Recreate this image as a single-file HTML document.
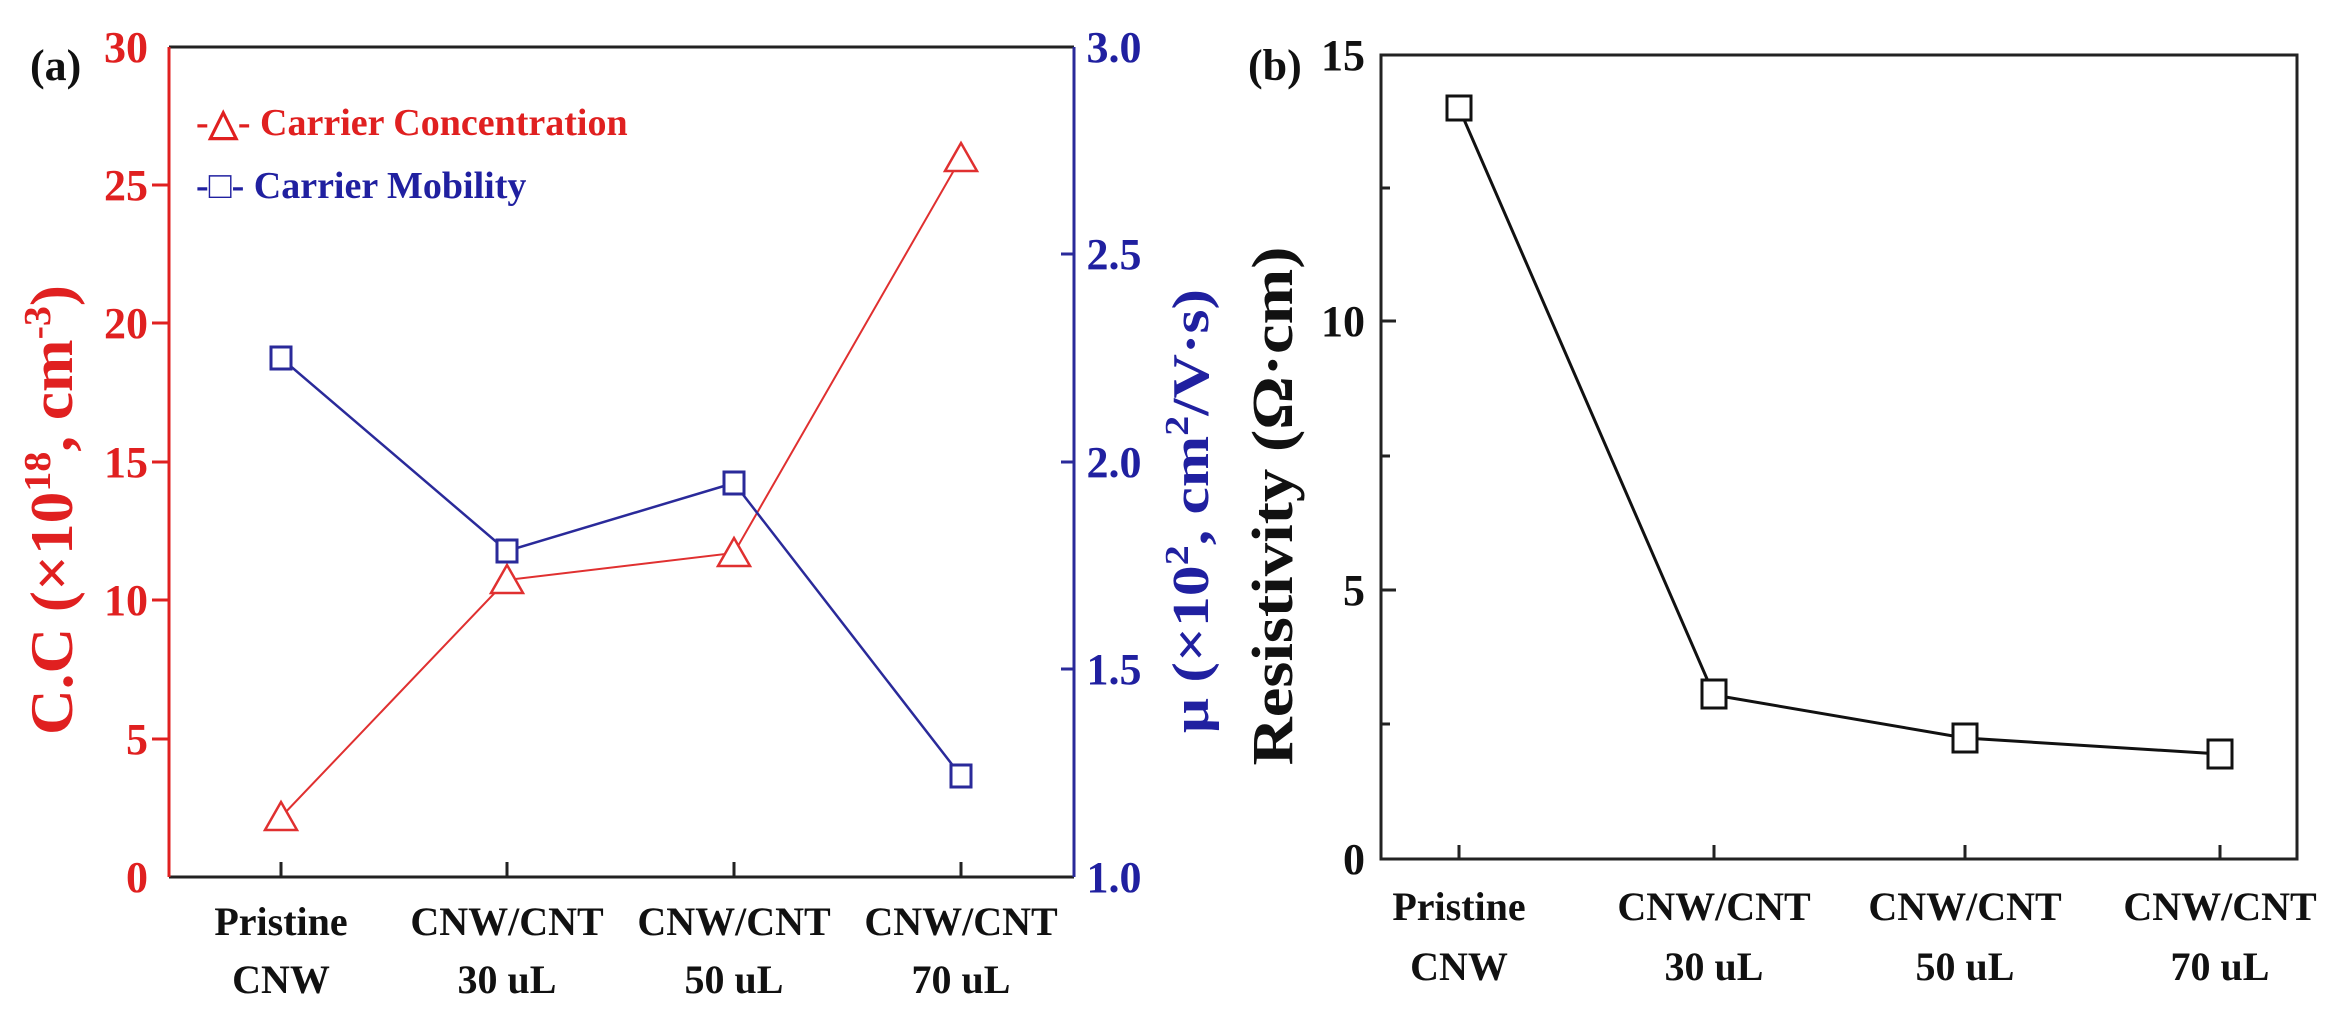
<!DOCTYPE html>
<html><head><meta charset="utf-8"><style>
html,body{margin:0;padding:0;background:#fff;}
svg{display:block;}
text{font-family:"Liberation Serif",serif;font-weight:bold;}
</style></head><body>
<svg width="2330" height="1017" viewBox="0 0 2330 1017" xmlns="http://www.w3.org/2000/svg">
<!-- Panel a -->
<text x="30" y="80" font-size="44" fill="#111">(a)</text>
<line x1="169" y1="47" x2="1074" y2="47" stroke="#222" stroke-width="3"/>
<line x1="169" y1="877" x2="1074" y2="877" stroke="#222" stroke-width="3"/>
<line x1="169" y1="47" x2="169" y2="877" stroke="#e02020" stroke-width="3"/>
<line x1="1074" y1="47" x2="1074" y2="877" stroke="#2a2a9a" stroke-width="3"/>
<g stroke="#e02020" stroke-width="3">
<line x1="152" y1="185" x2="169" y2="185"/><line x1="152" y1="323" x2="169" y2="323"/>
<line x1="152" y1="462" x2="169" y2="462"/><line x1="152" y1="600" x2="169" y2="600"/>
<line x1="152" y1="739" x2="169" y2="739"/>
</g>
<g fill="#e02020" font-size="44" text-anchor="end">
<text x="148" y="62">30</text><text x="148" y="200">25</text><text x="148" y="338">20</text>
<text x="148" y="477">15</text><text x="148" y="615">10</text><text x="148" y="754">5</text>
<text x="148" y="892">0</text>
</g>
<g stroke="#2a2a9a" stroke-width="3">
<line x1="1061" y1="254" x2="1074" y2="254"/><line x1="1061" y1="462" x2="1074" y2="462"/>
<line x1="1061" y1="669" x2="1074" y2="669"/>
</g>
<g fill="#2020a0" font-size="44" text-anchor="middle">
<text x="1114" y="62">3.0</text><text x="1114" y="269">2.5</text><text x="1114" y="477">2.0</text>
<text x="1114" y="684">1.5</text><text x="1114" y="892">1.0</text>
</g>
<g stroke="#222" stroke-width="3">
<line x1="281" y1="877" x2="281" y2="862"/><line x1="507" y1="877" x2="507" y2="862"/>
<line x1="734" y1="877" x2="734" y2="862"/><line x1="961" y1="877" x2="961" y2="862"/>
</g>
<g fill="#111" font-size="40" text-anchor="middle">
<text x="281" y="935">Pristine</text><text x="281" y="993">CNW</text>
<text x="507" y="935">CNW/CNT</text><text x="507" y="993">30 uL</text>
<text x="734" y="935">CNW/CNT</text><text x="734" y="993">50 uL</text>
<text x="961" y="935">CNW/CNT</text><text x="961" y="993">70 uL</text>
</g>
<text transform="translate(72,510) rotate(-90)" text-anchor="middle" font-size="60" fill="#e02020" textLength="450" lengthAdjust="spacingAndGlyphs">C.C (×10<tspan font-size="38" dy="-22">18</tspan><tspan dy="22">, cm</tspan><tspan font-size="38" dy="-22">-3</tspan><tspan dy="22">)</tspan></text>
<text transform="translate(1208,511) rotate(-90)" text-anchor="middle" font-size="52" fill="#2020a0" textLength="444" lengthAdjust="spacingAndGlyphs">μ (×10<tspan font-size="34" dy="-20">2</tspan><tspan dy="20">, cm</tspan><tspan font-size="34" dy="-20">2</tspan><tspan dy="20">/V·s)</tspan></text>
<!-- legend -->
<text x="196" y="135" font-size="38" fill="#e02020">-△- Carrier Concentration</text>
<text x="196" y="198" font-size="38" fill="#2020a0">-□- Carrier Mobility</text>
<!-- series -->
<polyline points="281,817 507,580 734,553 961,158" fill="none" stroke="#e03030" stroke-width="2"/>
<polyline points="281,358 507,551 734,483 961,776" fill="none" stroke="#2a2a9a" stroke-width="2.5"/>
<g fill="#fff" stroke="#e03030" stroke-width="2.5">
<polygon points="281,802 297,830 265,830"/><polygon points="507,565 523,593 491,593"/>
<polygon points="734,538 750,566 718,566"/><polygon points="961,143 977,171 945,171"/>
</g>
<g fill="#fff" stroke="#2a2a9a" stroke-width="3">
<rect x="271" y="347" width="20" height="22"/><rect x="497" y="540" width="20" height="22"/>
<rect x="724" y="472" width="20" height="22"/><rect x="951" y="765" width="20" height="22"/>
</g>
<!-- Panel b -->
<text x="1248" y="80" font-size="44" fill="#111">(b)</text>
<rect x="1381" y="55" width="916" height="804" fill="none" stroke="#222" stroke-width="3"/>
<g stroke="#222" stroke-width="3">
<line x1="1381" y1="188" x2="1390" y2="188"/><line x1="1381" y1="321" x2="1396" y2="321"/>
<line x1="1381" y1="456" x2="1390" y2="456"/><line x1="1381" y1="590" x2="1396" y2="590"/>
<line x1="1381" y1="724" x2="1390" y2="724"/>
<line x1="1459" y1="859" x2="1459" y2="845"/><line x1="1714" y1="859" x2="1714" y2="845"/>
<line x1="1965" y1="859" x2="1965" y2="845"/><line x1="2220" y1="859" x2="2220" y2="845"/>
</g>
<g fill="#111" font-size="44" text-anchor="end">
<text x="1365" y="70">15</text><text x="1365" y="336">10</text><text x="1365" y="605">5</text><text x="1365" y="874">0</text>
</g>
<g fill="#111" font-size="40" text-anchor="middle">
<text x="1459" y="920">Pristine</text><text x="1459" y="980">CNW</text>
<text x="1714" y="920">CNW/CNT</text><text x="1714" y="980">30 uL</text>
<text x="1965" y="920">CNW/CNT</text><text x="1965" y="980">50 uL</text>
<text x="2220" y="920">CNW/CNT</text><text x="2220" y="980">70 uL</text>
</g>
<text transform="translate(1292,506) rotate(-90)" text-anchor="middle" font-size="58" fill="#111" textLength="519" lengthAdjust="spacingAndGlyphs">Resistivity (Ω·cm)</text>
<polyline points="1459,108 1714,695 1965,738 2220,754" fill="none" stroke="#111" stroke-width="3"/>
<g fill="#fff" stroke="#111" stroke-width="3">
<rect x="1447" y="96" width="24" height="24"/><rect x="1702" y="680" width="24" height="28"/>
<rect x="1953" y="724" width="24" height="28"/><rect x="2208" y="740" width="24" height="28"/>
</g>
</svg>
</body></html>
